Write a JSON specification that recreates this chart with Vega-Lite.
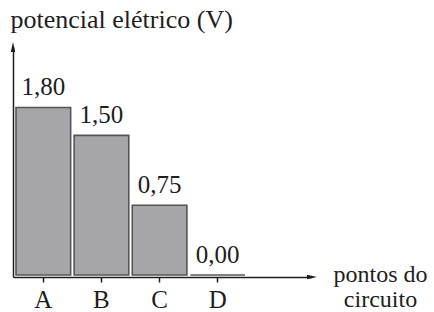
{
  "$schema": "https://vega.github.io/schema/vega-lite/v6.json",
  "autosize": "none",
  "width": 299,
  "height": 230,
  "padding": {"left": 13, "top": 47, "right": 122, "bottom": 35},
  "background": "white",
  "config": {
    "view": {"stroke": null},
    "locale": {"number": {"decimal": ",", "thousands": ".", "grouping": [3], "currency": ["R$", ""]}},
    "font": "Liberation Serif"
  },
  "data": {"values": [
    {"ponto": "A", "v": 1.80},
    {"ponto": "B", "v": 1.50},
    {"ponto": "C", "v": 0.75},
    {"ponto": "D", "v": 0.00}
  ]},
  "encoding": {
    "x": {
      "field": "ponto", "type": "nominal",
      "scale": {"paddingInner": 0.06, "paddingOuter": 0.602, "align": 0.043},
      "axis": {
        "labelAngle": 0, "labelFont": "Liberation Serif", "labelFontSize": 25, "labelColor": "#1e1e1e",
        "labelBaseline": "alphabetic", "labelPadding": 25,
        "tickSize": 5, "tickColor": "#1e1e1e", "tickWidth": 1.5,
        "domainColor": "#1e1e1e", "domainWidth": 1.5,
        "title": ["pontos do", "circuito"],
        "titleFont": "Liberation Serif", "titleFontSize": 24, "titleFontWeight": "normal", "titleColor": "#1e1e1e",
        "titleAlign": "center", "titleBaseline": "alphabetic", "titleX": 367, "titleY": 4, "titleLineHeight": 25
      }
    },
    "y": {
      "field": "v", "type": "quantitative",
      "scale": {"domain": [-0.0215, 2.45], "nice": false, "zero": false},
      "axis": {
        "labels": false, "ticks": false, "grid": false,
        "domainColor": "#1e1e1e", "domainWidth": 1.5,
        "title": "potencial elétrico (V)",
        "titleFont": "Liberation Serif", "titleFontSize": 26, "titleFontWeight": "normal", "titleColor": "#1e1e1e",
        "titleAngle": 0, "titleAlign": "left", "titleBaseline": "alphabetic", "titleX": -3, "titleY": -20
      }
    }
  },
  "layer": [
    {
      "mark": {"type": "bar", "fill": "#a6a6a9", "stroke": "#555555", "strokeWidth": 1.6},
      "encoding": {"y2": {"datum": 0}}
    },
    {
      "mark": {"type": "text", "baseline": "alphabetic", "dy": -12, "fontSize": 25, "font": "Liberation Serif", "color": "#1e1e1e"},
      "encoding": {"text": {"field": "v", "type": "quantitative", "format": ".2f"}}
    },
    {
      "data": {"values": [{"eixo": "y"}]},
      "mark": {"type": "point", "shape": "M-0.45,1L0,-1L0.45,1Z", "filled": true, "color": "#1e1e1e", "size": 100, "opacity": 1},
      "encoding": {"x": {"value": 0}, "y": {"value": 0}}
    },
    {
      "data": {"values": [{"eixo": "x"}]},
      "mark": {"type": "point", "shape": "M-1,-0.45L1,0L-1,0.45Z", "filled": true, "color": "#1e1e1e", "size": 100, "opacity": 1},
      "encoding": {"x": {"value": "width"}, "y": {"value": "height"}}
    }
  ]
}
